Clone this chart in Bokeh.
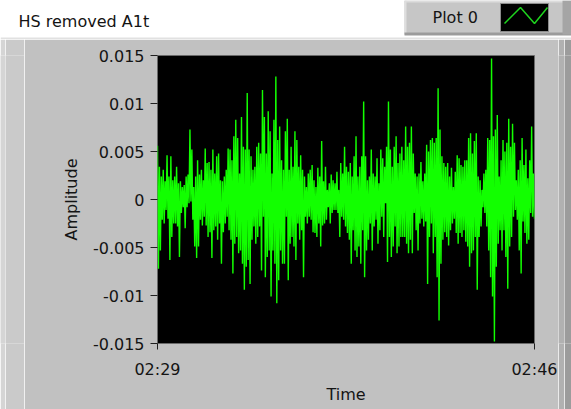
import numpy as np
from bokeh.plotting import figure
from bokeh.layouts import column, row
from bokeh.models import Range1d, FixedTicker
from bokeh.core.properties import value
from bokeh.embed import file_html
from bokeh.resources import INLINE

title_text = "HS removed A1t"
series_name = "Plot 0"
x_label = "Time"
y_label = "Amplitude"
time_tick_labels = ["02:29", "02:46"]
amp_ticks = [0.015, 0.01, 0.005, 0.0, -0.005, -0.01, -0.015]
amp_tick_labels = ["0.015", "0.01", "0.005", "0", "-0.005", "-0.01", "-0.015"]

# successive positive excursions of the trace, in time order
peaks = [
    0.0056, 0.0034, 0.0024, 0.0031, 0.0019, 0.0046, 0.0024, 0.0045, 0.0020, 0.0024,
    0.0034, 0.0017, 0.0019, 0.0013, 0.0015, 0.0024, 0.0026, 0.0073, 0.0052, 0.0013,
    0.0024, 0.0041, 0.0026, 0.0031, 0.0020, 0.0053, 0.0038, 0.0039, 0.0031, 0.0052,
    0.0027, 0.0045, 0.0048, 0.0020, 0.0019, 0.0024, 0.0031, 0.0053, 0.0052, 0.0041,
    0.0066, 0.0083, 0.0064, 0.0027, 0.0086, 0.0055, 0.0052, 0.0111, 0.0052, 0.0045,
    0.0031, 0.0034, 0.0055, 0.0059, 0.0048, 0.0114, 0.0086, 0.0048, 0.0092, 0.0071,
    0.0027, 0.0083, 0.0128, 0.0062, 0.0076, 0.0041,
    0.0031, 0.0071, 0.0084, 0.0031, 0.0055, 0.0034, 0.0071, 0.0062, 0.0034, 0.0046,
    0.0031, 0.0024, 0.0013, 0.0027, 0.0031, 0.0036, 0.0020, 0.0013, 0.0033, 0.0024,
    0.0061, 0.0019, 0.0034, 0.0010, 0.0017, 0.0026, 0.0020, 0.0017, 0.0029, 0.0010,
    0.0038, 0.0027, 0.0055, 0.0034, 0.0029, 0.0038, 0.0024, 0.0045, 0.0066, 0.0024,
    0.0034, 0.0045, 0.0102, 0.0045, 0.0020, 0.0024, 0.0052, 0.0027, 0.0024, 0.0043,
    0.0017, 0.0052, 0.0043, 0.0034, 0.0055, 0.0102, 0.0052, 0.0034, 0.0055, 0.0066,
    0.0038, 0.0048, 0.0055, 0.0041, 0.0076, 0.0055,
    0.0059, 0.0076, 0.0048, 0.0027, 0.0024, 0.0027, 0.0039, 0.0019, 0.0027, 0.0057,
    0.0050, 0.0062, 0.0064, 0.0059, 0.0064, 0.0116, 0.0073, 0.0045, 0.0038, 0.0034,
    0.0038, 0.0024, 0.0033, 0.0013, 0.0029, 0.0046, 0.0043, 0.0036, 0.0034, 0.0041,
    0.0041, 0.0064, 0.0069, 0.0048, 0.0061, 0.0069, 0.0024, 0.0020, 0.0010, 0.0027,
    0.0031, 0.0064, 0.0062, 0.0147, 0.0066, 0.0073, 0.0088, 0.0024, 0.0041, 0.0062,
    0.0050, 0.0059, 0.0084, 0.0055, 0.0079, 0.0059, 0.0020, 0.0031, 0.0041, 0.0064,
    0.0036, 0.0052, 0.0022, 0.0041, 0.0076, 0.0027,
]

# successive negative excursions of the trace, in time order
troughs = [
    -0.0072, -0.0053, -0.0021, -0.0025, -0.0011, -0.0020, -0.0063, -0.0039, -0.0025, -0.0025,
    -0.0028, -0.0060, -0.0014, -0.0008, -0.0030, -0.0008, -0.0004, -0.0002, -0.0021, -0.0049,
    -0.0061, -0.0049, -0.0021, -0.0027, -0.0018, -0.0027, -0.0039, -0.0034, -0.0061, -0.0032,
    -0.0028, -0.0042, -0.0025, -0.0067, -0.0034, -0.0025, -0.0018, -0.0032, -0.0042, -0.0077,
    -0.0046, -0.0039, -0.0056, -0.0053, -0.0067, -0.0094, -0.0070, -0.0063, -0.0088, -0.0042,
    -0.0028, -0.0046, -0.0039, -0.0028, -0.0074, -0.0018, -0.0081, -0.0060, -0.0053, -0.0101,
    -0.0053, -0.0067, -0.0108, -0.0084, -0.0053, -0.0067,
    -0.0067, -0.0018, -0.0084, -0.0046, -0.0039, -0.0049, -0.0063, -0.0025, -0.0042, -0.0032,
    -0.0081, -0.0018, -0.0025, -0.0018, -0.0021, -0.0034, -0.0035, -0.0039, -0.0025, -0.0049,
    -0.0027, -0.0025, -0.0021, -0.0008, -0.0025, -0.0014, -0.0011, -0.0011, -0.0014, -0.0039,
    -0.0018, -0.0021, -0.0028, -0.0035, -0.0042, -0.0067, -0.0032, -0.0053, -0.0060, -0.0049,
    -0.0067, -0.0032, -0.0081, -0.0053, -0.0042, -0.0025, -0.0053, -0.0028, -0.0021, -0.0046,
    -0.0032, -0.0018, -0.0039, -0.0004, -0.0065, -0.0039, -0.0060, -0.0049, -0.0028, -0.0056,
    -0.0049, -0.0039, -0.0039, -0.0039, -0.0046, -0.0056,
    -0.0042, -0.0056, -0.0014, -0.0032, -0.0053, -0.0025, -0.0020, -0.0028, -0.0023, -0.0088,
    -0.0039, -0.0025, -0.0056, -0.0039, -0.0081, -0.0126, -0.0067, -0.0042, -0.0034, -0.0039,
    -0.0048, -0.0032, -0.0025, -0.0020, -0.0035, -0.0046, -0.0035, -0.0039, -0.0032, -0.0044,
    -0.0049, -0.0070, -0.0056, -0.0053, -0.0039, -0.0094, -0.0039, -0.0028, -0.0008, -0.0014,
    -0.0028, -0.0053, -0.0081, -0.0101, -0.0148, -0.0070, -0.0046, -0.0032, -0.0053, -0.0032,
    -0.0060, -0.0093, -0.0049, -0.0039, -0.0018, -0.0011, -0.0021, -0.0053, -0.0077, -0.0023,
    -0.0035, -0.0046, -0.0042, -0.0014, -0.0018, -0.0020,
]

# interleave the excursions into one sampled trace
n = min(len(peaks), len(troughs))
amplitude = np.empty(2 * n)
amplitude[0::2] = peaks[:n]
amplitude[1::2] = troughs[:n]


def to_seconds(label):
    m, s = label.split(":")
    return int(m) * 60 + int(s)


t_start, t_end = (to_seconds(lbl) for lbl in time_tick_labels)
time = np.linspace(t_start, t_end, amplitude.size)

FONT = "DejaVu Sans"
PANEL = "#c1c1c1"
TEXT = "#141414"
TRACE = "#12ff00"

W, H = 571, 409
TOP_H = 39            # caption strip
MAIN_H = H - TOP_H
# bevel columns either side of the graph: (width, colour)
left_bevel = [(5, "#d5d5d5"), (19, "#cacaca")]
right_bevel = [(6, "#b1b1b1"), (7, "#9c9c9c")]
LEFT_W = sum(w for w, _ in left_bevel)
RIGHT_W = sum(w for w, _ in right_bevel)
MAIN_W = W - LEFT_W - RIGHT_W


def pixel_figure(w, h, bg):
    """A bare figure whose data space is its own pixel grid (y downwards)."""
    f = figure(width=w, height=h, x_range=Range1d(0, w), y_range=Range1d(h, 0),
               x_axis_type=None, y_axis_type=None, min_border=0,
               output_backend="svg", toolbar_location=None)
    f.outline_line_color = None
    f.background_fill_color = bg
    f.border_fill_color = bg
    return f


def slab(f, left, right, top, bottom, color, line=None):
    f.quad(left=[left], right=[right], top=[top], bottom=[bottom],
           fill_color=color, line_color=line)


# ---- caption strip with the plot legend ----
top = pixel_figure(W, TOP_H, "white")
slab(top, 0, W, 37, 39, "#e1e1e1")
slab(top, 404, W, 0, 34, "#c6c6c6")
slab(top, 404, W, 0, 2, "#dcdcdc")
slab(top, 404, 406, 0, 34, "#dedede")
slab(top, 404, W, 32, 35, "#9b9b9b")
slab(top, 562, W, 0, 34, "#a5a5a5")
slab(top, 500, 548, 3, 31, "black", line="#8c8c8c")
top.line([504, 520, 534, 547], [23, 7, 23, 7], line_color="#1ed41e", line_width=1.5)
top.text(x=[18], y=[21], text=[title_text], text_font=value(FONT),
         text_font_size="16px", text_color=TEXT, text_baseline="middle")
top.text(x=[432], y=[17], text=[series_name], text_font=value(FONT),
         text_font_size="16px", text_color=TEXT, text_baseline="middle")

# ---- frame bevels: plain single-colour columns ----
left_cols = [pixel_figure(w, MAIN_H, c) for w, c in left_bevel]
right_cols = [pixel_figure(w, MAIN_H, c) for w, c in right_bevel]

# ---- waveform graph ----
p = figure(
    width=MAIN_W, height=MAIN_H,
    output_backend="svg", toolbar_location=None,
    x_range=Range1d(t_start, t_end), y_range=Range1d(-0.015, 0.015),
    min_border_left=157 - LEFT_W, min_border_right=MAIN_W + LEFT_W - 534,
    min_border_top=55 - TOP_H, min_border_bottom=MAIN_H - (343 - TOP_H),
)
p.background_fill_color = "black"
p.border_fill_color = PANEL
p.outline_line_color = "#6a6a6a"
p.grid.visible = False

p.line(time, amplitude, line_color=TRACE, line_width=1.4)

xa, ya = p.xaxis[0], p.yaxis[0]
for ax in (xa, ya):
    ax.axis_line_color = None
    ax.major_tick_line_color = "#202020"
    ax.major_tick_in = 0
    ax.minor_tick_line_color = None
    ax.major_label_text_font = FONT
    ax.major_label_text_font_size = "16px"
    ax.major_label_text_color = TEXT
    ax.axis_label_text_font = FONT
    ax.axis_label_text_font_size = "16px"
    ax.axis_label_text_font_style = "normal"
    ax.axis_label_text_color = TEXT

ya.ticker = FixedTicker(ticks=amp_ticks)
ya.major_label_overrides = {t: l for t, l in zip(amp_ticks, amp_tick_labels)}
ya.major_tick_out = 7
ya.major_label_standoff = 6
ya.axis_label = y_label
ya.axis_label_standoff = 9

xa.ticker = FixedTicker(ticks=[t_start, t_end])
xa.major_label_overrides = {t_start: time_tick_labels[0], t_end: time_tick_labels[1]}
xa.major_tick_out = 6
xa.major_label_standoff = 10
xa.axis_label = x_label
xa.axis_label_standoff = 3

page = column(top, row(*left_cols, p, *right_cols, spacing=0), spacing=0)

open("out.html", "w").write(file_html(page, INLINE))
